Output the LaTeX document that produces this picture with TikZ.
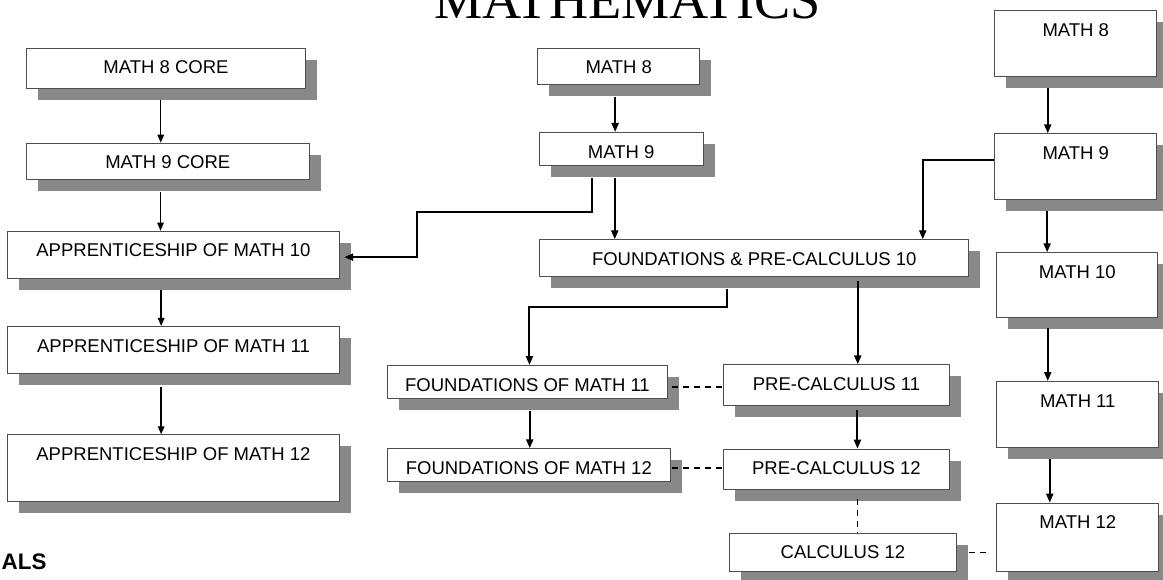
\documentclass[tikz,border=0pt]{standalone}
\usepackage{fontspec}
\setmainfont{Liberation Sans}
\newfontfamily\titlefont{Liberation Serif}
\usetikzlibrary{arrows.meta,shadows,calc}
\definecolor{shd}{HTML}{888888}
\definecolor{edgegray}{HTML}{4D4D4D}
\begin{document}
\begin{tikzpicture}[x=1pt,y=-1pt,
  bx/.style={draw=edgegray, line width=0.9pt, fill=white, inner sep=0pt,
    text height=25.6pt, font=\fontsize{18.5}{20}\selectfont, anchor=north west,
    general shadow={fill=shd, shadow xshift=11.5pt, shadow yshift=-11.5pt}},
  arr/.style={line width=2pt, -{Triangle[length=9pt,width=7pt]}},
  thinarr/.style={line width=1.4pt, -{Triangle[length=8pt,width=6.5pt]}},
  dsh/.style={line width=1.5pt, dash pattern=on 6pt off 5pt}]
\useasboundingbox (0,0) rectangle (1163,580);

% title
\node[font=\titlefont\fontsize{54.3}{56}\selectfont, anchor=base, inner sep=0pt] (title) at (627.5,19) {MATHEMATICS};
\node[font=\bfseries\fontsize{22.4}{24}\selectfont, anchor=base west, inner sep=0pt] (goals) at (1.5,569.5) {ALS};

% left column
\node[bx, minimum width=279pt, text depth=14.4pt] (m8core) at (26,47.7) {MATH 8 CORE};
\node[bx, minimum width=282.7pt, text depth=11pt] (m9core) at (26,142.7) {MATH 9 CORE};
\node[bx, minimum width=331.4pt, text depth=21.4pt] (app10) at (7.3,230.7) {APPRENTICESHIP OF MATH 10};
\node[bx, minimum width=331.4pt, text depth=21.1pt] (app11) at (7.3,326) {APPRENTICESHIP OF MATH 11};
\node[bx, minimum width=331.4pt, text depth=41.1pt] (app12) at (7.3,434.3) {APPRENTICESHIP OF MATH 12};

% middle
\node[bx, minimum width=162pt, text depth=10.7pt] (cm8) at (537.3,47.7) {MATH 8};
\node[bx, minimum width=164pt, text depth=7.7pt] (cm9) at (538.7,132) {MATH 9};
\node[bx, minimum width=429pt, text depth=10.8pt] (fpc10) at (539.3,239.3) {FOUNDATIONS \& PRE-CALCULUS 10};
\node[bx, minimum width=279.4pt, text depth=7.4pt] (fom11) at (387.3,365) {FOUNDATIONS OF MATH 11};
\node[bx, minimum width=283.3pt, text depth=7.4pt] (fom12) at (386.7,448.3) {FOUNDATIONS OF MATH 12};
\node[bx, minimum width=226.6pt, text depth=15.1pt] (pc11) at (722.7,364.3) {PRE-CALCULUS 11};
\node[bx, minimum width=226.6pt, text depth=15pt] (pc12) at (722.7,448.7) {PRE-CALCULUS 12};
\node[bx, minimum width=226.4pt, text depth=12.7pt] (calc12) at (729.3,532.7) {CALCULUS 12};

% right column
\node[bx, minimum width=162pt, text depth=40.4pt] (rm8) at (994.3,10.3) {MATH 8};
\node[bx, minimum width=162pt, text depth=40.4pt] (rm9) at (994.3,133.3) {MATH 9};
\node[bx, minimum width=161pt, text depth=38.8pt] (rm10) at (996.3,252.3) {MATH 10};
\node[bx, minimum width=162pt, text depth=40.1pt] (rm11) at (996.3,381) {MATH 11};
\node[bx, minimum width=162pt, text depth=42.4pt] (rm12) at (996.3,502.7) {MATH 12};

% left connectors
\draw[thinarr] ([xshift=-5.2pt,yshift=-11pt]m8core.south) coordinate (a0) -- (a0 |- m9core.north);
\draw[thinarr] ([xshift=-7.3pt,yshift=-12pt]m9core.south) coordinate (b0) -- (b0 |- app10.north);
\draw[thinarr] ([xshift=-12.3pt,yshift=-11.5pt]app10.south) coordinate (c0) -- (c0 |- app11.north);
\draw[thinarr] ([xshift=-12.3pt,yshift=-13pt]app11.south) coordinate (d0) -- (d0 |- app12.north);

% middle connectors
\draw[arr] ([xshift=-3.6pt,yshift=-12pt]cm8.south) coordinate (e0) -- (e0 |- cm9.north);
\draw[arr] ([xshift=-6.4pt,yshift=-12pt]cm9.south) coordinate (f0) -- (f0 |- fpc10.north);
\draw[arr] ([xshift=-28.7pt,yshift=-12pt]cm9.south) -- ++(0,33.4) -- ++(-175.3,0)
  |- ([xshift=4.6pt,yshift=-2.5pt]app10.east);
\draw[arr] ([xshift=-27.1pt,yshift=-12pt]fpc10.south) -- ++(0,18) -| ([xshift=2pt]fom11.north);
\draw[arr] ([xshift=103.5pt,yshift=-4pt]fpc10.south) coordinate (l0) -- (l0 |- pc11.north);
\draw[arr] ([xshift=21pt,yshift=-4.3pt]pc11.south) coordinate (m0) -- (m0 |- pc12.north);
\draw[arr] ([xshift=2.3pt,yshift=-12pt]fom11.south) coordinate (n0) -- (n0 |- fom12.north);

% right connectors
\draw[arr] ([xshift=-28pt,yshift=-11pt]rm8.south) coordinate (h0) -- (h0 |- rm9.north);
\draw[arr] ([yshift=7pt]rm9.west) -| ([xshift=168.5pt]fpc10.north);
\draw[arr] ([xshift=-28.6pt,yshift=-11pt]rm9.south) coordinate (j0) -- (j0 |- rm10.north);
\draw[arr] ([xshift=-29.5pt,yshift=-10.6pt]rm10.south) coordinate (o0) -- (o0 |- rm11.north);
\draw[arr] ([xshift=-28pt,yshift=-11.3pt]rm11.south) coordinate (p0) -- (p0 |- rm12.north);

% dashed links
\draw[dsh] ([xshift=4pt,yshift=-5.2pt]fom11.east) coordinate (q0) -- (q0 -| pc11.west);
\draw[dsh] ([xshift=1pt,yshift=-2.9pt]fom12.east) coordinate (r0) -- (r0 -| pc12.west);
\draw[dsh] ([xshift=21pt,yshift=-9pt]pc12.south) coordinate (s0) -- (s0 |- calc12.north);
\coordinate (t1) at ([xshift=-7pt]rm12.west);
\draw[dsh] ([xshift=12.3pt]calc12.east) coordinate (t0) -- (t0 -| t1);
\end{tikzpicture}
\end{document}
